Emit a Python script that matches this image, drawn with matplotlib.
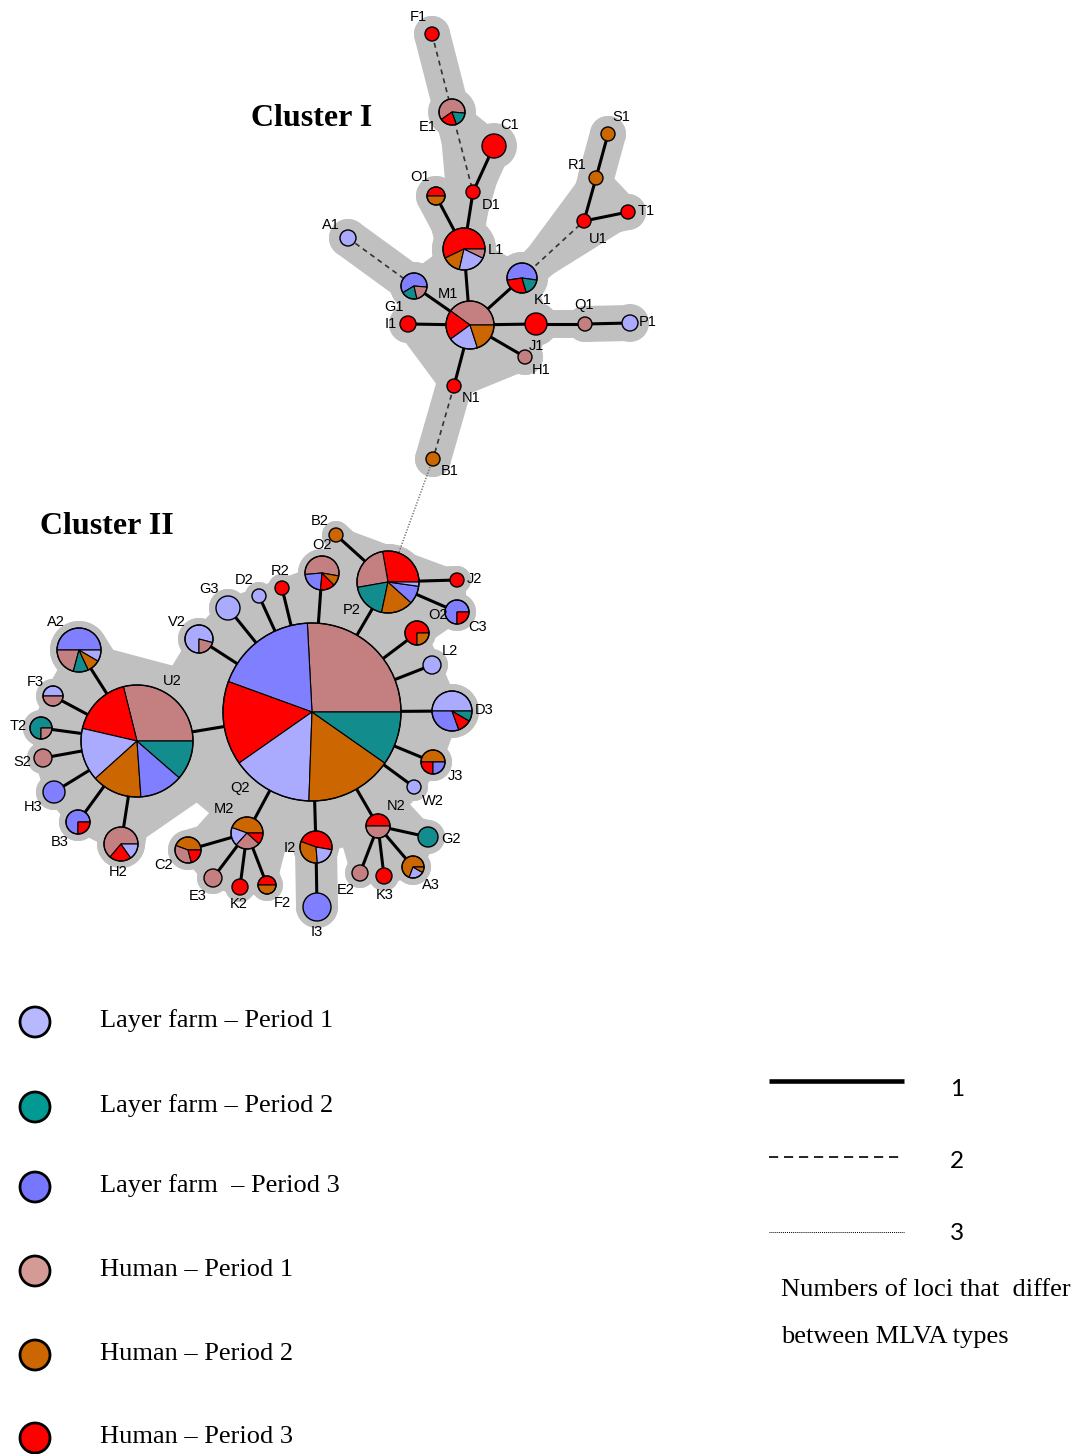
import numpy as np
import matplotlib
matplotlib.use("Agg")
import matplotlib.pyplot as plt
from matplotlib.patches import Wedge, Circle, Polygon


# ---------- source categories ----------
categories = ["LF1", "LF2", "LF3", "HU1", "HU2", "HU3"]
category_names = [
    "Layer farm \u2013 Period 1",
    "Layer farm \u2013 Period 2",
    "Layer farm  \u2013 Period 3",
    "Human \u2013 Period 1",
    "Human \u2013 Period 2",
    "Human \u2013 Period 3",
]
pie_colors = {"LF1": "#AAAAFF", "LF2": "#128C8C", "LF3": "#7F7FFF",
              "HU1": "#C48080", "HU2": "#CC6600", "HU3": "#FF0000"}
legend_colors = ["#B8B8FF", "#009A93", "#7676FF", "#D49A96", "#CC6600", "#FF0000"]

# ---------- MLVA type composition (shares, counterclockwise from start angle) ----------
mix = {
    # cluster I
    "F1": [("HU3", 1)],
    "E1": [("HU1", 220), ("HU3", 75), ("LF2", 65)],
    "C1": [("HU3", 1)],
    "D1": [("HU3", 1)],
    "O1": [("HU3", 1), ("HU2", 1)],
    "L1": [("HU3", 8), ("HU2", 2), ("LF1", 3), ("HU1", 1)],
    "A1": [("LF1", 1)],
    "G1": [("LF3", 3), ("LF2", 1), ("HU1", 1)],
    "M1": [("HU1", 4), ("HU3", 2), ("LF1", 2), ("HU2", 2)],
    "I1": [("HU3", 1)],
    "K1": [("LF3", 6), ("HU3", 3), ("LF2", 2)],
    "K1b": [("HU3", 1)],
    "Q1": [("HU1", 1)],
    "P1": [("LF1", 1)],
    "J1": [("HU1", 1)],
    "U1": [("HU3", 1)],
    "T1": [("HU3", 1)],
    "R1": [("HU2", 1)],
    "S1": [("HU2", 1)],
    "N1": [("HU3", 1)],
    "B1": [("HU2", 1)],
    # cluster II
    "Q2": [("HU1", 93), ("LF3", 67), ("HU3", 55), ("LF1", 53), ("HU2", 57), ("LF2", 35)],
    "U2": [("HU1", 104), ("HU3", 63), ("LF1", 55), ("HU2", 52), ("LF3", 45), ("LF2", 41)],
    "V2": [("LF1", 285), ("HU1", 75)],
    "G3": [("LF1", 1)],
    "D2": [("LF1", 1)],
    "R2": [("HU3", 1)],
    "O2": [("HU1", 195), ("LF3", 80), ("HU3", 50), ("HU2", 35)],
    "P2": [("HU3", 100), ("HU1", 90), ("LF2", 68), ("HU2", 60), ("LF3", 34), ("LF1", 8)],
    "B2": [("HU2", 1)],
    "J2": [("HU3", 1)],
    "C3": [("LF3", 3), ("HU3", 1)],
    "O2b": [("HU3", 3), ("HU2", 1)],
    "L2": [("LF1", 1)],
    "D3": [("LF1", 180), ("LF3", 110), ("HU3", 40), ("LF2", 30)],
    "J3": [("HU2", 2), ("HU3", 1), ("LF3", 1)],
    "W2": [("LF1", 1)],
    "N2": [("HU3", 1), ("HU1", 1)],
    "G2": [("LF2", 1)],
    "A3": [("HU2", 250), ("LF1", 80), ("HU2", 30)],
    "K3": [("HU3", 1)],
    "E2": [("HU1", 1)],
    "I2": [("HU3", 170), ("HU2", 115), ("LF1", 75)],
    "I3": [("LF3", 1)],
    "M2": [("HU2", 160), ("LF1", 68), ("HU1", 90), ("HU3", 42)],
    "K2": [("HU3", 1)],
    "F2": [("HU3", 1), ("HU2", 1)],
    "E3": [("HU1", 1)],
    "C2": [("HU2", 160), ("HU1", 125), ("HU3", 75)],
    "A2": [("LF3", 180), ("HU1", 75), ("LF2", 40), ("HU2", 35), ("LF1", 30)],
    "F3": [("LF1", 1), ("HU1", 1)],
    "T2": [("LF2", 3), ("HU1", 1)],
    "S2": [("HU1", 1)],
    "H3": [("LF3", 1)],
    "B3": [("LF3", 3), ("HU3", 1)],
    "H2": [("HU1", 230), ("HU3", 75), ("LF1", 55)],
}
start_angle = {"E1": -5, "G1": -5, "K1": -8, "O2": -10, "I2": -10, "V2": -15}

# links, grouped by number of differing loci
links_1 = [
    ("C1", "D1"), ("D1", "L1"), ("O1", "L1"), ("L1", "M1"), ("G1", "M1"), ("I1", "M1"),
    ("K1", "M1"), ("M1", "K1b"), ("K1b", "Q1"), ("Q1", "P1"), ("M1", "J1"), ("M1", "N1"),
    ("U1", "T1"), ("U1", "R1"), ("R1", "S1"),
    ("Q2", "U2"), ("Q2", "V2"), ("Q2", "G3"), ("Q2", "D2"), ("Q2", "R2"), ("Q2", "O2"),
    ("Q2", "P2"), ("Q2", "O2b"), ("Q2", "L2"), ("Q2", "D3"), ("Q2", "J3"), ("Q2", "W2"),
    ("Q2", "N2"), ("Q2", "I2"), ("Q2", "M2"),
    ("P2", "B2"), ("P2", "J2"), ("P2", "C3"),
    ("U2", "A2"), ("U2", "F3"), ("U2", "T2"), ("U2", "S2"), ("U2", "H3"), ("U2", "B3"), ("U2", "H2"),
    ("M2", "C2"), ("M2", "E3"), ("M2", "K2"), ("M2", "F2"),
    ("N2", "G2"), ("N2", "A3"), ("N2", "K3"), ("N2", "E2"),
    ("I2", "I3"),
]
links_2 = [("F1", "E1"), ("E1", "D1"), ("A1", "G1"), ("K1", "U1"), ("N1", "B1")]
links_3 = [("B1", "P2")]

# ---------- layout (pixel positions and node radius) ----------
layout = {
    "F1": (432, 34, 7), "E1": (452, 112, 13), "C1": (494, 146, 12), "D1": (473, 192, 7),
    "O1": (436, 196, 9), "L1": (464, 249, 21), "A1": (348, 238, 8), "G1": (414, 286, 13),
    "M1": (470, 325, 24), "I1": (408, 324, 8), "K1": (522, 278, 15), "K1b": (536, 324, 11),
    "Q1": (585, 324, 7), "P1": (630, 323, 8), "J1": (525, 357, 7), "U1": (584, 221, 7),
    "T1": (628, 212, 7), "R1": (596, 178, 7), "S1": (608, 134, 7), "N1": (454, 386, 7),
    "B1": (433, 459, 7),
    "Q2": (312, 712, 89), "U2": (137, 741, 56), "V2": (199, 639, 14), "G3": (228, 608, 12),
    "D2": (259, 596, 7), "R2": (282, 588, 7), "O2": (322, 573, 17), "P2": (388, 582, 31),
    "B2": (336, 535, 7), "J2": (457, 580, 7), "C3": (457, 612, 12), "O2b": (417, 633, 12),
    "L2": (432, 665, 9), "D3": (452, 711, 20), "J3": (433, 762, 12), "W2": (414, 787, 7),
    "N2": (378, 826, 12), "G2": (428, 837, 10), "A3": (413, 867, 11), "K3": (384, 876, 8),
    "E2": (360, 873, 8), "I2": (316, 847, 16), "I3": (317, 907, 14), "M2": (247, 833, 16),
    "K2": (240, 887, 8), "F2": (267, 885, 9), "E3": (213, 878, 9), "C2": (188, 850, 13),
    "A2": (79, 650, 22), "F3": (53, 696, 10), "T2": (41, 728, 11), "S2": (43, 758, 9),
    "H3": (54, 792, 11), "B3": (78, 822, 12), "H2": (121, 844, 17),
}

labels = [
    ("F1", 418, 17), ("E1", 428, 127), ("C1", 510, 125), ("D1", 491, 205), ("O1", 420, 177),
    ("L1", 496, 250), ("A1", 331, 225), ("G1", 394, 307), ("M1", 448, 294), ("I1", 391, 324),
    ("K1", 543, 300), ("Q1", 584, 305), ("P1", 648, 322), ("J1", 536, 346), ("H1", 541, 370),
    ("U1", 598, 239), ("T1", 646, 211), ("R1", 577, 165), ("S1", 621, 117), ("N1", 471, 398),
    ("B1", 450, 471),
    ("B2", 320, 521), ("O2", 322, 545), ("R2", 280, 571), ("D2", 244, 580), ("G3", 209, 589),
    ("P2", 352, 610), ("J2", 474, 579), ("O2", 438, 615), ("C3", 478, 627), ("L2", 450, 651),
    ("D3", 484, 710), ("J3", 455, 776), ("W2", 433, 801), ("N2", 396, 806), ("G2", 451, 839),
    ("A3", 431, 885), ("K3", 385, 895), ("E2", 346, 890), ("I2", 290, 848), ("I3", 317, 932),
    ("M2", 224, 809), ("K2", 239, 904), ("F2", 282, 903), ("E3", 198, 896), ("C2", 164, 865),
    ("Q2", 240, 788), ("U2", 172, 681), ("A2", 56, 622), ("F3", 35, 682), ("T2", 18, 726),
    ("S2", 22, 762), ("H3", 33, 807), ("B3", 60, 842), ("H2", 118, 872), ("V2", 177, 622),
]

GREY = "#C0C0C0"
W, H = 1078, 1454
PX = 0.72  # points per pixel at dpi 100

fig = plt.figure(figsize=(W / 100, H / 100), dpi=100)
ax = fig.add_axes([0, 0, 1, 1])
ax.set_xlim(0, W)
ax.set_ylim(H, 0)
ax.set_aspect("equal")
ax.axis("off")


def pad_of(node):
    return 11 if node.endswith("1") else 7


# ---------- grey halo around each cluster ----------
halo_links = links_1 + links_2
neighbours = {n: [] for n in layout}
for a, b in halo_links:
    neighbours[a].append(b)
    neighbours[b].append(a)

for hub, nbrs in neighbours.items():
    if len(nbrs) < 3:
        continue
    hx, hy, _ = layout[hub]
    ang = sorted(nbrs, key=lambda n: np.arctan2(-(layout[n][1] - hy), layout[n][0] - hx))
    pts = [(layout[n][0], layout[n][1]) for n in ang]
    angs = [np.degrees(np.arctan2(-(layout[n][1] - hy), layout[n][0] - hx)) for n in ang]
    gaps = [(angs[(i + 1) % len(angs)] - angs[i]) % 360 for i in range(len(angs))]
    i = int(np.argmax(gaps))
    if gaps[i] > 180:
        pts.insert(i + 1, (hx, hy))
    pad = pad_of(hub) + 2
    ax.add_patch(Polygon(pts, closed=True, fc=GREY, ec=GREY, lw=2 * pad * PX,
                         joinstyle="round", zorder=1))

for a, b in halo_links:
    xa, ya, ra = layout[a]
    xb, yb, rb = layout[b]
    half = min(ra, rb) + pad_of(a)
    ax.plot([xa, xb], [ya, yb], color=GREY, lw=2 * half * PX,
            solid_capstyle="round", zorder=1)

for n, (x, y, r) in layout.items():
    ax.add_patch(Circle((x, y), r + pad_of(n), fc=GREY, ec="none", zorder=1))

# ---------- links ----------
for a, b in links_1:
    ax.plot([layout[a][0], layout[b][0]], [layout[a][1], layout[b][1]],
            color="black", lw=2.2, solid_capstyle="butt", zorder=2)
for a, b in links_2:
    ax.plot([layout[a][0], layout[b][0]], [layout[a][1], layout[b][1]],
            color="#333333", lw=1.2, ls=(0, (3, 2.5)), zorder=2)
for a, b in links_3:
    ax.plot([layout[a][0], layout[b][0]], [layout[a][1], layout[b][1]],
            color="#555555", lw=0.9, ls=(0, (1, 1.3)), zorder=2)


# ---------- pie nodes ----------
def draw_pie(x, y, r, parts, start):
    if len(parts) == 1:
        ax.add_patch(Circle((x, y), r, fc=pie_colors[parts[0][0]], ec="black", lw=1.0, zorder=3))
        return
    total = float(sum(v for _, v in parts))
    a = start
    for key, v in parts:
        span = 360.0 * v / total
        # y axis points down, so screen-counterclockwise angles are negated
        ax.add_patch(Wedge((x, y), r, -(a + span), -a, fc=pie_colors[key],
                           ec="black", lw=0.8, zorder=3))
        a += span
    ax.add_patch(Circle((x, y), r, fill=False, ec="black", lw=1.0, zorder=3.1))


for n, (x, y, r) in layout.items():
    draw_pie(x, y, r, mix[n], start_angle.get(n, 0))

for text, x, y in labels:
    ax.text(x, y, text, ha="center", va="center", fontsize=10.5,
            family="Liberation Sans", zorder=4)

ax.text(312, 118, "Cluster I", ha="center", va="center", fontsize=23,
        fontweight="bold", family="Liberation Serif")
ax.text(107, 527, "Cluster II", ha="center", va="center", fontsize=23,
        fontweight="bold", family="Liberation Serif")

# ---------- legends ----------
legend_y = [1022, 1107, 1187, 1271, 1355, 1438]
for name, col, y in zip(category_names, legend_colors, legend_y):
    ax.add_patch(Circle((35, y), 15, fc=col, ec="black", lw=2.0))
    ax.text(100, y - 1, name, ha="left", va="center", fontsize=19, family="Liberation Serif")

line_y = [1081, 1157, 1232]
number_y = [1089, 1161, 1234]
line_styles = [dict(lw=3.3, ls="-", color="black"),
               dict(lw=1.2, ls=(0, (5.5, 3.5)), color="black"),
               dict(lw=0.7, ls=(0, (1, 1)), color="black")]
for y, ny, st, num in zip(line_y, number_y, line_styles, ["1", "2", "3"]):
    ax.plot([769, 904], [y, y], solid_capstyle="butt", **st)
    ax.text(957, ny, num, ha="center", va="center", fontsize=17.5, family="Lato")

ax.text(781, 1290, "Numbers of loci that  differ", ha="left", va="center",
        fontsize=19, family="Liberation Serif")
ax.text(781, 1337, "between MLVA types", ha="left", va="center",
        fontsize=19, family="Liberation Serif")

fig.savefig("out.png", dpi=100)
